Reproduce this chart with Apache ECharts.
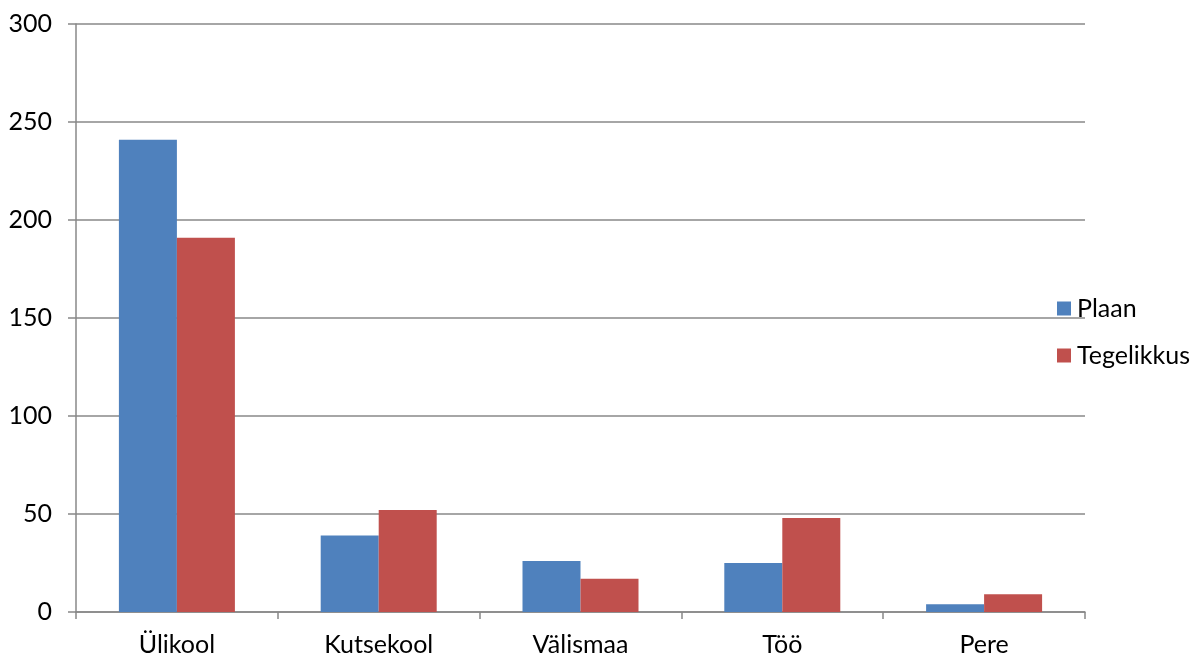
<!DOCTYPE html>
<html><head><meta charset="utf-8">
<script src="https://cdn.jsdelivr.net/npm/echarts@6/dist/echarts.min.js"></script>
<style>html,body{margin:0;padding:0;background:#fff}#c{width:1198px;height:658px}</style>
</head><body><div id="c"></div>
<script>
const categories = ['Ülikool','Kutsekool','Välismaa','Töö','Pere'];
const plaan = [241, 39, 26, 25, 4];
const tegelikkus = [191, 52, 17, 48, 9];
const seriesNames = ['Plaan','Tegelikkus'];
const FONT = 'Lato';
const chart = echarts.init(document.getElementById('c'));
chart.setOption({
  animation:false,
  textStyle:{fontFamily:FONT},
  grid:{left:76,right:113,top:24,bottom:46,containLabel:false},
  legend:{orient:'vertical',left:1057,top:296,padding:0,itemWidth:14,itemHeight:14,itemGap:22,
    icon:'rect',textStyle:{fontSize:25,color:'#000',fontFamily:FONT,padding:[0,0,0,1]},data:seriesNames},
  xAxis:{type:'category',data:categories,
    axisLine:{lineStyle:{color:'#888',width:1.5}},
    axisTick:{show:true,length:7,lineStyle:{color:'#888',width:1.5}},
    axisLabel:{fontSize:25,color:'#000',margin:20,fontFamily:FONT}},
  yAxis:{type:'value',min:0,max:300,interval:50,
    axisLine:{show:true,lineStyle:{color:'#888',width:1.5}},
    axisTick:{show:true,length:8,lineStyle:{color:'#888',width:1.5}},
    splitLine:{lineStyle:{color:'#888',width:1.5}},
    axisLabel:{fontSize:25,color:'#000',margin:24,fontFamily:FONT}},
  series:[
    {name:seriesNames[0],type:'bar',data:plaan,barWidth:58,barGap:'0%',itemStyle:{color:'#4F81BD'}},
    {name:seriesNames[1],type:'bar',data:tegelikkus,barWidth:58,barGap:'0%',itemStyle:{color:'#C0504D'}}
  ]
});
</script></body></html>
